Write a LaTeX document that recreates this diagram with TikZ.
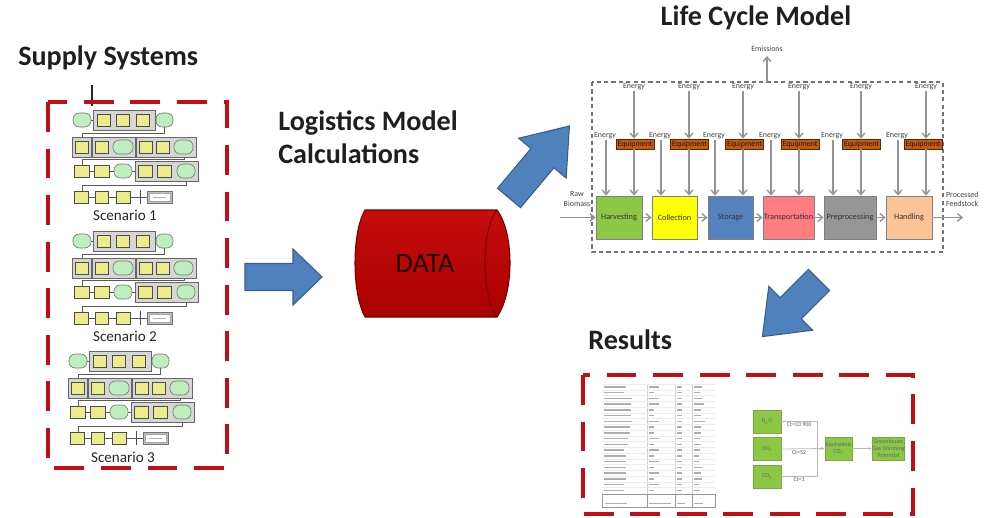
\documentclass[tikz,border=0pt]{standalone}
\usepackage{fontspec}
\setmainfont{Carlito}
\usetikzlibrary{arrows.meta}

\definecolor{dashred}{RGB}{196,14,22}
\definecolor{arrowblue}{RGB}{79,129,189}
\definecolor{arrowedge}{RGB}{56,93,138}
\definecolor{cylred}{RGB}{196,0,0}
\definecolor{cyldark}{RGB}{170,0,0}
\definecolor{thumbyellow}{RGB}{236,236,140}
\definecolor{thumbgreen}{RGB}{190,238,190}
\definecolor{thumbgray}{RGB}{214,214,214}
\definecolor{equipfill}{RGB}{197,90,17}
\definecolor{harvcol}{RGB}{140,200,70}
\definecolor{collcol}{RGB}{255,255,0}
\definecolor{storcol}{RGB}{84,130,190}
\definecolor{trancol}{RGB}{255,125,128}
\definecolor{prepcol}{RGB}{150,150,150}
\definecolor{handcol}{RGB}{250,196,150}
\definecolor{resgreen}{RGB}{140,200,70}

\tikzset{
  title/.style={font=\fontsize{16}{19}\selectfont\bfseries, text=black!88, inner sep=0pt},
  redframe/.style={draw=dashred, line width=2.6pt, dash pattern=on 17pt off 9.5pt},
  barrow/.style={fill=arrowblue, draw=arrowedge, line width=0.6pt, line join=miter},
  thline/.style={draw=black!65, line width=0.35pt},
  ythumb/.style={fill=thumbyellow, draw=black!70, line width=0.35pt},
  gthumb/.style={fill=thumbgreen, draw=black!55, line width=0.35pt, rounded corners=3.5pt},
  grpthumb/.style={fill=thumbgray, draw=black!60, line width=0.35pt},
  scen/.style={font=\fontsize{8.6}{10}\selectfont, text=black!85, inner sep=0pt},
  lcl/.style={font=\fontsize{4.5}{5.2}\selectfont, text=black!75, inner sep=0.4pt, align=center},
  lcarrow/.style={draw=black!42, line width=0.8pt, -{Straight Barb[length=2.6pt,width=4.4pt]}},
  lcbox/.style={draw=black!55, line width=0.6pt, dash pattern=on 2.4pt off 1.8pt},
  equip/.style={fill=equipfill, draw=black!55!equipfill, line width=0.4pt, minimum width=0.76cm,
    minimum height=0.2cm, inner sep=0pt, font=\fontsize{4.5}{5}\selectfont, text=black!80!equipfill},
  proc/.style={draw=black!50, line width=0.5pt, minimum height=0.86cm, inner sep=0pt,
    font=\fontsize{4.7}{5.4}\selectfont, text=black!80},
  rline/.style={draw=black!28, line width=0.45pt},
  rarrow/.style={rline, -{Latex[length=2pt,width=1.8pt]}},
  gbox/.style={fill=resgreen, draw=resgreen!85!black, line width=0.3pt, minimum height=0.46cm,
    inner sep=0pt, font=\fontsize{3.4}{3.9}\selectfont, text=black!60, align=center},
  rlab/.style={font=\fontsize{3.4}{4}\selectfont, text=black!65, inner sep=0.6pt},
  tbar/.style={fill=black!32},
}

% small thumbnail pieces of the supply-chain schematics
\newcommand\ysq[3]{\draw[ythumb] (#1,#3-6) rectangle (#2,#3+6);}
\newcommand\gov[3]{\draw[gthumb] (#1,#3-7) rectangle (#2,#3+7);}
\newcommand\grpbox[3]{\draw[grpthumb] (#1,#3-10) rectangle (#2,#3+10);}

% one scenario schematic: four rows of operations
\newcommand\scenariorows{%
  % row 1
  \draw[thline] (73,120) -- (173,120);
  \grpbox{93}{155}{120}
  \gov{73}{91}{120}
  \ysq{97}{110}{120}\ysq{116}{129}{120}\ysq{136}{149}{120}
  \gov{156}{173}{120}
  \draw[thline] (164,127) |- (82,133) -- (82,137);
  % row 2
  \draw[thline] (75,147) -- (193,147);
  \grpbox{72}{91}{147}\grpbox{92}{135}{147}\grpbox{136}{196}{147}
  \ysq{75}{88}{147}\ysq{95}{108}{147}\gov{113}{133}{147}
  \ysq{139}{152}{147}\ysq{156}{169}{147}\gov{174}{193}{147}
  \draw[thline] (184,157) |- (82,159) -- (82,165);
  % row 3
  \draw[thline] (74,171) -- (195,171);
  \grpbox{135}{198}{171}
  \ysq{74}{89}{171}\ysq{94}{109}{171}\gov{114}{132}{171}
  \ysq{138}{152}{171}\ysq{157}{171}{171}\gov{177}{195}{171}
  \draw[thline] (186,181) |- (82,185) -- (82,191);
  % row 4
  \draw[thline] (74,197) -- (147,197);
  \ysq{74}{88}{197}\ysq{95}{108}{197}\ysq{116}{130}{197}
  \draw[draw=black!70, line width=0.5pt] (140,190) -- (140,204);
  \draw[fill=black!25, draw=black!55, line width=0.3pt] (147,191.5) rectangle (172,203);
  \draw[fill=white, draw=black!35, line width=0.25pt] (149,193.5) rectangle (170,201);
  \draw[black!30, line width=0.3pt] (153,197) -- (166,197);
}

% block arrow: #1 shaft half width, #2 shaft length, #3 head half width, #4 head length
\newcommand\blockarrow[4]{%
  \draw[barrow] (0,-#1) -- (#2,-#1) -- (#2,-#3) -- (#2+#4,0) -- (#2,#3) -- (#2,#1) -- (0,#1) -- cycle;}

\begin{document}
\begin{tikzpicture}[x=0.02cm, y=-0.02cm]
\useasboundingbox (0,0) rectangle (986,517);

% ---------------- supply systems ----------------
\node[title, anchor=base west] (suptitle) at (18,66) {Supply Systems};
\coordinate (tickA) at (92,85);
\coordinate (tickB) at (92,106);
\draw[black!85, line width=0.7pt] (tickA) -- (tickB);
\draw[redframe] (48,102) rectangle (227,468);

\begin{scope}\scenariorows\end{scope}
\node[scen] (sc1) at (125,215) {Scenario 1};
\begin{scope}[shift={(0,121)}]\scenariorows\end{scope}
\node[scen] (sc2) at (125,336) {Scenario 2};
\begin{scope}[shift={(-4,241)}]\scenariorows\end{scope}
\node[scen] (sc3) at (123,457) {Scenario 3};

% ---------------- logistics model ----------------
\node[title, anchor=base west] (logt1) at (278,131) {Logistics Model};
\node[title, anchor=base west] (logt2) at (278,163) {Calculations};

\begin{scope}[shift={(245,277)}]\blockarrow{13.5}{48}{28}{29}\end{scope}

% data store drawn as a lying cylinder
\path[top color=cylred!95!white, bottom color=cyldark, draw=black!40!cylred, line width=0.6pt]
  (365,210) -- (497,210) .. controls (506,222) and (510,243) .. (510,263)
  .. controls (510,283) and (506,304) .. (497,317) -- (365,317)
  .. controls (358,304) and (355,283) .. (355,263)
  .. controls (355,243) and (358,222) .. (365,210) -- cycle;
\draw[draw=black!40!cylred, line width=0.6pt]
  (497,210) .. controls (488,222) and (485,243) .. (485,263)
  .. controls (485,283) and (488,304) .. (497,317);
\node[font=\fontsize{16}{18}\selectfont, text=black!85!cylred] (data) at (425,263) {DATA};

% arrows towards and out of the life cycle model
\begin{scope}[shift={(509,198)}, rotate=50]\blockarrow{15}{52}{31}{42}\end{scope}
\begin{scope}[shift={(819,280)}, rotate=225]\blockarrow{15}{40}{31}{40}\end{scope}

% ---------------- life cycle model ----------------
\node[title, anchor=base] (lctitle) at (756,26) {Life Cycle Model};
\draw[lcbox] (592,82) rectangle (943,252);

\coordinate (embase) at (767,82);
\coordinate (emtop) at (767,56);
\draw[lcarrow] (embase) -- (emtop);
\node[lcl] (emis) at (767,49) {Emissions};

% process steps
\node[proc, fill=harvcol, minimum width=0.92cm] (p1) at (619,217.5) {Harvesting};
\node[proc, fill=collcol, minimum width=0.90cm] (p2) at (674.5,217.5) {Collection};
\node[proc, fill=storcol, minimum width=0.90cm] (p3) at (730.5,217.5) {Storage};
\node[proc, fill=trancol, minimum width=1.02cm] (p4) at (788.5,217.5) {Transportation};
\node[proc, fill=prepcol, minimum width=1.04cm] (p5) at (850,217.5) {Preprocessing};
\node[proc, fill=handcol, minimum width=0.92cm] (p6) at (909,217.5) {Handling};

% equipment with its energy input, and direct energy input, for each step
\foreach \i/\ex/\qx/\lx in {1/634/635/605, 2/689/689.5/660, 3/743/744.5/714,
                           4/799/800/770, 5/861/861.5/832, 6/926/923/897}{
  \node[lcl] (et\i) at (\ex,87) {Energy};
  \node[equip] (q\i) at (\qx,144) {Equipment};
  \node[lcl] (el\i) at (\lx,136) {Energy};
  \draw[lcarrow] (et\i.south) -- (et\i.south |- q\i.north);
  \draw[lcarrow] (et\i.south |- q\i.south) -- (et\i.south |- p\i.north);
  \draw[lcarrow] ([xshift=0.02cm]el\i.south) -- ([xshift=0.02cm]el\i.south |- p\i.north);
}

\foreach \a/\b in {1/2, 2/3, 3/4, 4/5, 5/6}{
  \draw[lcarrow] (p\a.east) -- (p\b.west);
}

\coordinate (rawin) at (560,217.5);
\draw[lcarrow] (rawin) -- (p1.west);
\node[lcl] (raw) at (577,199) {Raw\\Biomass};
\coordinate (pfout) at (963,217.5);
\draw[lcarrow] (p6.east) -- (pfout);
\node[lcl, anchor=west, align=left] (feed) at (945,199) {Processed\\Feedstock};

% ---------------- results ----------------
\node[title, anchor=base west] (restitle) at (588,349) {Results};
\draw[redframe] (583,375) rectangle (913,514);

% inventory table
\foreach \cx in {647,675,692}{\draw[black!18, line width=0.3pt] (\cx,384) -- (\cx,494);}
\foreach \r/\a/\b/\c/\d in {0/22/10/5/8, 1/20/5/5/6, 2/28/10/5/8, 3/27/10/5/10, 4/27/5/5/7,
   5/27/5/5/7, 6/28/10/5/11, 7/26/5/5/7, 8/26/5/5/7, 9/24/10/5/6, 10/24/5/5/7, 11/20/10/5/6,
   12/22/5/5/5, 13/22/10/5/5, 14/22/5/5/8, 15/22/10/5/7, 16/22/5/5/8, 17/20/10/5/5, 18/20/5/5/6}{
  \draw[black!8, line width=0.2pt] (602,{384+\r*5.75}) -- (715,{384+\r*5.75});
  \fill[tbar] (604,{386.2+\r*5.75}) rectangle ++(\a,1.4);
  \fill[tbar] (649,{386.2+\r*5.75}) rectangle ++(\b,1.4);
  \fill[tbar] (677,{386.2+\r*5.75}) rectangle ++(\c,1.4);
  \fill[tbar] (694,{386.2+\r*5.75}) rectangle ++(\d,1.4);
}
\draw[black!40, line width=0.5pt] (602,494) rectangle (715,507);
\foreach \cx in {647,675,692}{\draw[black!40, line width=0.5pt] (\cx,494) -- (\cx,507);}
\fill[tbar] (605,503) rectangle ++(22,1.4);
\fill[tbar] (649,503) rectangle ++(22,1.4);
\fill[tbar] (677,503) rectangle ++(8,1.4);
\fill[tbar] (694,503) rectangle ++(9,1.4);

% characterisation of greenhouse gases
\node[gbox, minimum width=0.56cm] (n2o) at (767,421.5) {N\textsubscript{2}O};
\node[gbox, minimum width=0.56cm] (ch4) at (767,449) {CH\textsubscript{4}};
\node[gbox, minimum width=0.56cm] (co2) at (767,476.5) {CO\textsubscript{2}};
\node[gbox, minimum width=0.54cm] (eqco) at (838.5,448.5) {Equivalent\\CO\textsubscript{2}};
\node[gbox, minimum width=0.58cm] (ghg) at (888.5,448.5) {Greenhouse\\Gas Warming\\Potential};

\coordinate (join) at (817,421.5);
\draw[rline] (n2o.east) -- (join) |- (co2.east);
\draw[rarrow] (ch4.east) -- (eqco.west);
\draw[rarrow] (eqco.east) -- (ghg.west);
\path (n2o.east) -- (join) node[rlab, midway, below] {Ct=33 900};
\path (ch4.east) -- (ch4.east -| join) node[rlab, midway, below] {Ct=52};
\path (co2.east) -- (co2.east -| join) node[rlab, midway, below] {Ct=1};

\end{tikzpicture}
\end{document}
